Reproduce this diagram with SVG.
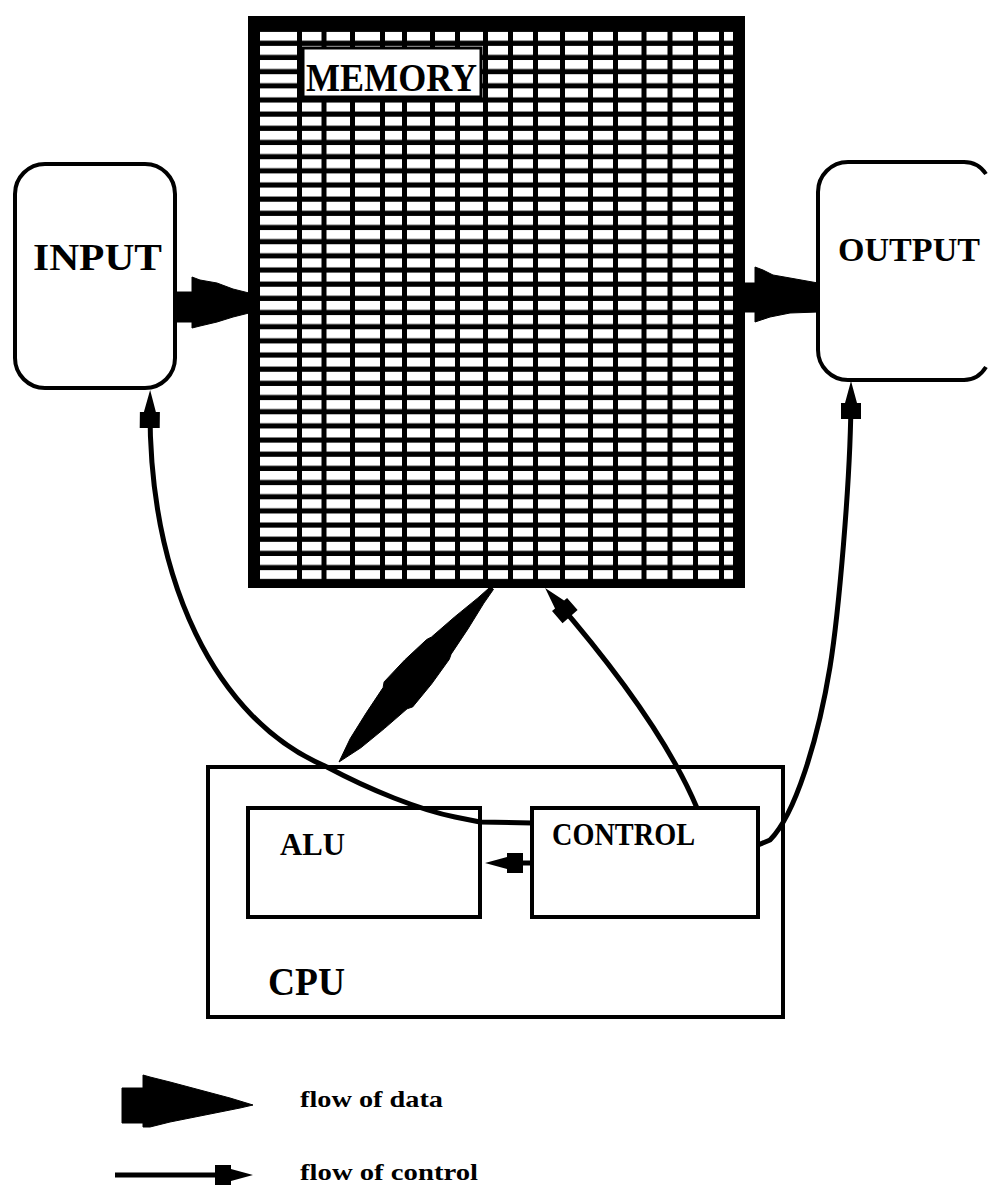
<svg xmlns="http://www.w3.org/2000/svg" width="997" height="1185" viewBox="0 0 997 1185">
<style>
  .box { fill: #fff; stroke: #000; stroke-width: 4; }
  .lbl { font-family: "Liberation Serif", "DejaVu Serif", serif; font-weight: bold; fill: #000; }
  .ctl { fill: none; stroke: #000; stroke-width: 5; stroke-linejoin: round; }
  .data { fill: #000; stroke: #000; stroke-width: 1; stroke-linejoin: round; }
</style>
<defs>
  <marker id="ctlHead" markerUnits="userSpaceOnUse" markerWidth="40" markerHeight="24" refX="0" refY="0" orient="auto" overflow="visible">
    <path d="M12,0 L-10,-6 L-10,-10 L-26,-10 L-26,10 L-10,10 L-10,6 Z" fill="#000"/>
  </marker>
  <pattern id="memRows" patternUnits="userSpaceOnUse" x="260" y="31.7" width="480" height="14.17">
    <rect x="0" y="0" width="480" height="9" fill="#fff"/>
  </pattern>
</defs>
<rect width="997" height="1185" fill="#fff"/>

<g id="memory">
  <rect x="248" y="16" width="497" height="572" fill="#000"/>
  <rect x="260" y="31.7" width="473" height="547.5" fill="url(#memRows)"/>
  <path d="M299.5,31 V580 M324,31 V580 M352.5,31 V580 M382.5,31 V580 M404.5,31 V580 M432.5,31 V580 M457.5,31 V580 M485.5,31 V580 M510.5,31 V580 M535.5,31 V580 M562.5,31 V580 M590.5,31 V580 M615.5,31 V580 M644,31 V580 M670,31 V580 M695.5,31 V580 M721.5,31 V580" stroke="#000" stroke-width="5" fill="none"/>
  <rect x="303" y="48" width="178" height="49" fill="#fff" stroke="#000" stroke-width="3"/>
  <text class="lbl" x="306" y="91" font-size="40" textLength="171" lengthAdjust="spacingAndGlyphs">MEMORY</text>
</g>

<g id="input">
  <rect class="box" x="15" y="164" width="160" height="224" rx="30" ry="30"/>
  <text class="lbl" x="33" y="270" font-size="38" textLength="129" lengthAdjust="spacingAndGlyphs">INPUT</text>
</g>

<g id="output">
  <path class="box" d="M986,174 Q978,162 964,162 L848,162 A30,30 0 0 0 818,192 L818,350 A30,30 0 0 0 848,380 L964,380 Q978,380 986,367"/>
  <text class="lbl" x="838" y="261" font-size="34" textLength="142" lengthAdjust="spacingAndGlyphs">OUTPUT</text>
</g>

<g id="cpu">
  <rect class="box" x="208" y="767" width="575" height="250"/>
  <text class="lbl" x="268" y="995" font-size="40" textLength="77" lengthAdjust="spacingAndGlyphs">CPU</text>
</g>

<g id="alu">
  <rect class="box" x="248" y="808" width="232" height="109"/>
  <text class="lbl" x="280" y="855" font-size="31" textLength="65" lengthAdjust="spacingAndGlyphs">ALU</text>
</g>

<g id="control">
  <rect class="box" x="532" y="808" width="226" height="109"/>
  <text class="lbl" x="552" y="845" font-size="31" textLength="143" lengthAdjust="spacingAndGlyphs">CONTROL</text>
</g>

<g id="connectors">
  <!-- data: input -> memory -->
  <polygon class="data" points="177,292 192,292 192,277 200,280 217,283 233,289 249,293 249,313 233,317 217,322 200,326 192,328 192,322 177,322"/>
  <!-- data: memory -> output -->
  <polygon class="data" points="745,283 755,283 755,267 763,270 773,275 790,278 818,283 818,312 790,313 770,317 755,322 755,312 745,312"/>
  <!-- data: memory <-> CPU (double headed) -->
  <polygon class="data" points="339,762 360.8,747.8 384.3,728.6 407.1,708.8 412.7,706.9 431.7,683.8 449.3,659.3 451.1,654.2 467.9,629 483.9,603.1 493.5,589.3 490.5,586.7 477.9,597.9 454.3,617.2 431.5,637 426.7,639.5 404.7,660 384.1,681.9 383.1,687.6 366.3,712.8 350.2,738.6"/>
  <!-- control: control -> input -->
  <path class="ctl" d="M532,823 L480,822 L455,817 C420,810 370,790 327,767 C215,720 148,580 150,402" marker-end="url(#ctlHead)"/>
  <!-- control: control -> output -->
  <path class="ctl" d="M758,845 L770,840 C795,815 818,740 830,667 C838,618 851,480 851,393" marker-end="url(#ctlHead)"/>
  <!-- control: control -> memory -->
  <path class="ctl" d="M697,808 Q660,720 553,597" marker-end="url(#ctlHead)"/>
  <!-- control: control -> ALU -->
  <path class="ctl" d="M532,863 L497,863" marker-end="url(#ctlHead)"/>
</g>

<g id="legend">
  <polygon class="data" points="122,1088 143,1088 143,1075 150,1077 170,1082 200,1090 230,1098 253,1105 240,1108 200,1116 170,1122 150,1127 143,1127 143,1123 122,1123"/>
  <text class="lbl" x="300" y="1107" font-size="24" textLength="143" lengthAdjust="spacingAndGlyphs">flow of data</text>
  <path class="ctl" d="M115,1175 L241,1175" stroke-width="6" marker-end="url(#ctlHead)"/>
  <text class="lbl" x="300" y="1180" font-size="24" textLength="178" lengthAdjust="spacingAndGlyphs">flow of control</text>
</g>
</svg>
